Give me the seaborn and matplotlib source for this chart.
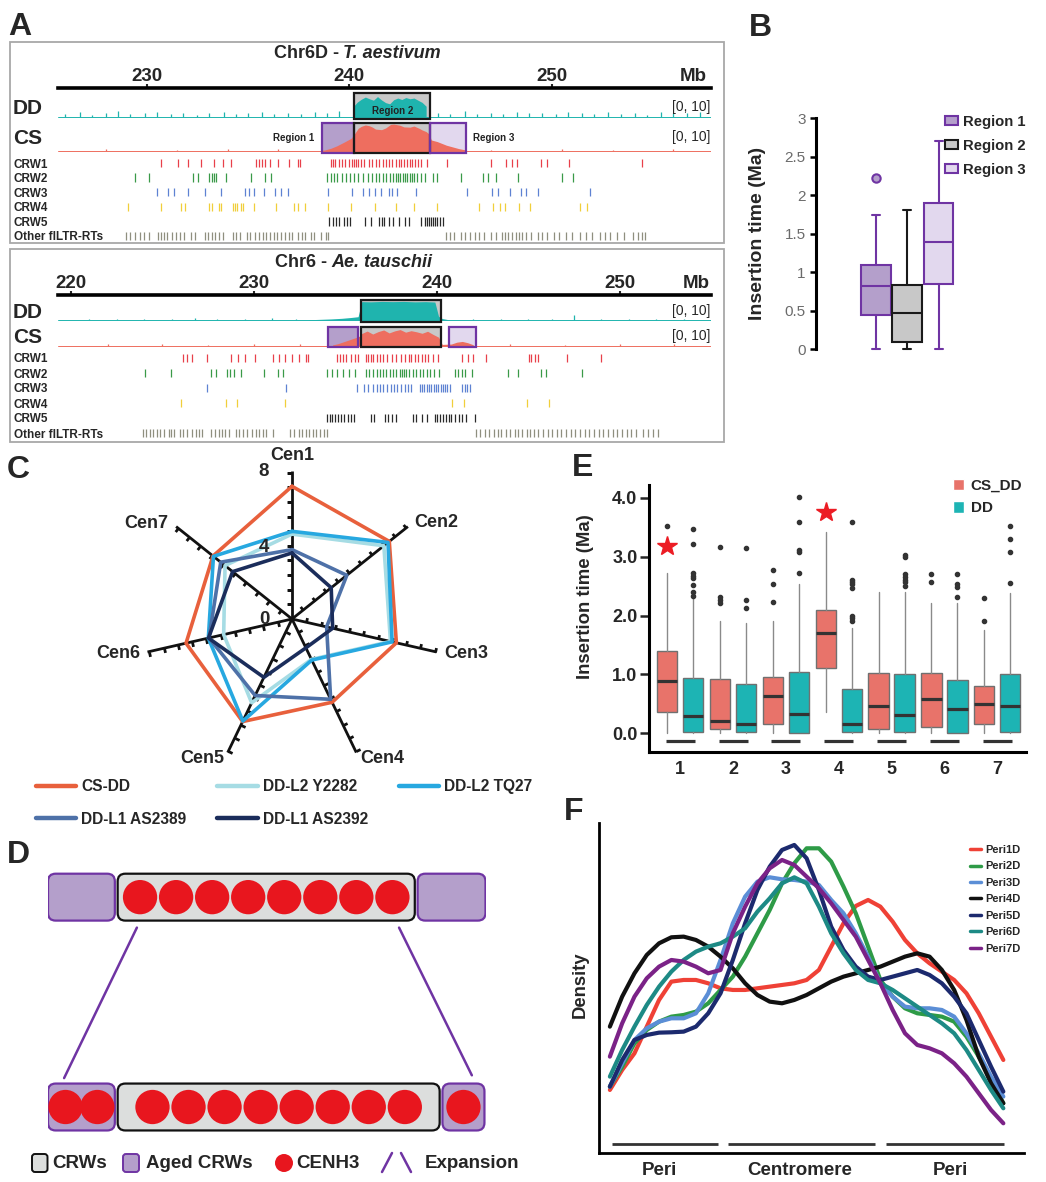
import numpy as np
import pandas as pd
import matplotlib
matplotlib.use("Agg")
import matplotlib.pyplot as plt
import matplotlib.patches as mpatches
from matplotlib.lines import Line2D
from matplotlib.markers import MarkerStyle
from matplotlib.path import Path
from matplotlib.transforms import Affine2D
import seaborn as sns

sns.set_style("white")
plt.rcParams["font.family"] = ["Liberation Sans", "DejaVu Sans"]
plt.rcParams["font.weight"] = "bold"

# ---------------- data: panel A (positions in Mb) ----------------
row_names = ["CRW1", "CRW2", "CRW3", "CRW4", "CRW5", "Other flLTR-RTs"]

top_crw1 = [230.69, 231.56, 232.07, 232.69, 233.33, 233.79, 234.18, 235.40, 235.54, 235.68, 235.86, 236.09, 236.48,
            237.01, 237.47, 237.58, 239.08, 239.19, 239.31, 239.49, 239.65, 239.81, 240.0, 240.13, 240.23, 240.34,
            240.45, 240.57, 240.75, 240.96, 241.14, 241.33, 241.49, 241.65, 241.83, 241.97, 242.11, 242.29, 242.48,
            242.57, 242.71, 242.87, 242.98, 243.10, 243.26, 243.40, 243.56, 243.86, 244.82, 247.0, 247.76, 248.04,
            248.27, 249.49, 249.76, 250.84, 254.43]
top_crw2 = [229.43, 230.11, 232.30, 232.53, 233.1, 233.22, 233.33, 233.45, 233.9, 235.17, 235.86, 236.13, 238.92,
            239.08, 239.26, 239.42, 239.65, 239.83, 240.04, 240.23, 240.45, 240.68, 240.91, 241.14, 241.33, 241.49,
            241.65, 241.83, 242.02, 242.18, 242.29, 242.41, 242.52, 242.64, 242.75, 242.87, 242.98, 243.1, 243.21,
            243.37, 243.56, 243.72, 244.13, 244.36, 245.51, 246.61, 246.84, 247.23, 248.31, 250.52, 251.07]
top_crw3 = [230.51, 231.08, 231.38, 232.07, 232.87, 233.68, 234.87, 235.06, 235.29, 235.81, 236.36, 236.66, 236.96,
            238.96, 240.16, 240.68, 240.96, 241.26, 241.56, 241.95, 242.11, 242.34, 243.28, 245.81, 247.07, 247.35,
            247.92, 248.5, 248.73, 249.3, 251.9]
top_crw4 = [229.08, 230.69, 231.72, 231.88, 233.06, 233.22, 233.56, 233.68, 234.25, 234.37, 234.48, 234.67, 234.76,
            235.29, 236.39, 237.28, 237.47, 237.81, 238.96, 240.11, 241.26, 242.29, 243.21, 244.36, 246.43, 247.12,
            247.46, 247.69, 248.38, 248.95, 251.37, 251.76]
top_crw5 = [239.03, 239.19, 239.35, 239.49, 239.77, 239.88, 240.04, 240.8, 241.1, 241.49, 241.61, 241.72, 241.95,
            242.18, 242.48, 242.75, 242.94, 243.56, 243.72, 243.86, 243.95, 244.04, 244.13, 244.25, 244.36, 244.48,
            244.64]
top_other = [228.97, 229.2, 229.43, 229.66, 229.89, 230.11, 230.57, 230.69, 230.85, 230.99, 231.26, 231.45, 231.63,
             231.84, 232.18, 232.41, 232.87, 233.03, 233.22, 233.38, 233.56, 233.79, 234.25, 234.43, 234.6, 234.94,
             235.12, 235.35, 235.54, 235.74, 235.91, 236.09, 236.27, 236.46, 236.64, 236.82, 237.01, 237.19, 237.47,
             237.65, 237.81, 238.11, 238.27, 238.62, 238.85, 238.96, 244.77, 245.0, 245.17, 245.51, 245.74, 245.97,
             246.2, 246.43, 246.66, 247.0, 247.23, 247.53, 247.69, 247.85, 248.04, 248.22, 248.38, 248.54, 248.73,
             248.96, 249.3, 249.53, 249.76, 250.11, 250.34, 250.68, 251.02, 251.37, 251.71, 251.99, 252.4, 252.63,
             252.86, 253.21, 253.55, 254.01, 254.24, 254.43, 254.59]

bot_crw1 = [226.1, 226.36, 226.61, 227.45, 228.77, 229.15, 229.53, 230.04, 231.06, 231.37, 231.7, 232.08, 232.46,
            232.84, 232.97, 234.54, 234.7, 234.87, 235.05, 235.31, 235.51, 235.71, 236.15, 236.27, 236.4, 236.53,
            236.73, 236.91, 237.09, 237.29, 237.54, 237.75, 238.05, 238.26, 238.46, 238.61, 238.82, 238.97, 239.2,
            239.37, 239.53, 239.78, 240.09, 241.36, 241.69, 241.99, 242.71, 245.04, 245.17, 245.38, 245.55, 247.15,
            248.99]
bot_crw2 = [224.07, 225.47, 227.63, 227.93, 228.52, 228.7, 228.9, 229.28, 230.55, 231.31, 231.57, 233.98, 234.29,
            234.54, 234.87, 235.2, 235.51, 236.15, 236.32, 236.53, 236.73, 236.91, 237.04, 237.24, 237.42, 237.59,
            237.8, 237.98, 238.1, 238.2, 238.31, 238.51, 238.69, 238.87, 239.07, 239.27, 239.45, 239.63, 239.83,
            240.14, 240.98, 241.15, 241.36, 241.56, 241.92, 243.9, 244.46, 245.68, 245.99, 247.92]
bot_crw3 = [227.42, 231.75, 235.64, 236.02, 236.27, 236.53, 236.73, 236.91, 237.09, 237.29, 237.49, 237.67, 237.85,
            238.05, 238.26, 238.43, 238.61, 239.07, 239.2, 239.32, 239.45, 239.58, 239.71, 239.83, 239.96, 240.09,
            240.21, 240.34, 240.47, 240.59, 240.72, 241.41, 241.54, 241.66, 241.82]
bot_crw4 = [226.03, 228.47, 229.08, 231.7, 240.85, 241.48, 244.92, 246.14]
bot_crw5 = [233.98, 234.14, 234.29, 234.44, 234.59, 234.75, 234.95, 235.13, 235.31, 235.46, 236.4, 236.58, 237.16,
            237.34, 237.54, 237.75, 238.69, 238.89, 239.2, 239.45, 239.88, 240.04, 240.19, 240.34, 240.49, 240.65,
            240.8, 240.98, 241.23, 241.41, 241.61, 242.07]
bot_other = [223.94, 224.12, 224.32, 224.5, 224.7, 224.88, 225.09, 225.34, 225.47, 225.64, 225.98, 226.15, 226.36,
             226.61, 226.81, 226.99, 227.17, 227.68, 227.88, 228.09, 228.26, 228.44, 228.64, 229.03, 229.2, 229.41,
             229.61, 229.92, 230.12, 230.3, 230.48, 230.68, 231.06, 232.0, 232.2, 232.46, 232.66, 232.84, 233.02,
             233.22, 233.42, 233.6, 233.86, 233.98, 242.17, 242.37, 242.63, 242.88, 243.14, 243.34, 243.52, 243.77,
             244.03, 244.28, 244.46, 244.66, 244.92, 245.12, 245.3, 245.55, 245.81, 246.06, 246.32, 246.57, 246.82,
             247.08, 247.33, 247.59, 247.84, 248.1, 248.35, 248.6, 248.86, 249.11, 249.37, 249.62, 249.88, 250.13,
             250.38, 250.64, 250.89, 251.27, 251.58, 251.83, 252.09]

# coverage tracks, scale [0, 10]
top_dd_pos = [240.2, 240.4, 240.6, 240.8, 241.0, 241.2, 241.4, 241.6, 241.8, 242.0, 242.2, 242.4, 242.6, 242.8,
              243.0, 243.2, 243.4, 243.6, 243.8]
top_dd_val = [4.3, 6.2, 7.4, 8.3, 7.6, 7.0, 8.5, 7.1, 6.0, 5.5, 7.2, 7.9, 7.3, 8.1, 7.6, 7.9, 7.0, 6.1, 4.5]
top_cs_pos = [238.6, 238.8, 239.1, 239.4, 239.8, 240.1, 240.3, 240.45, 240.6, 240.8, 241.0, 241.15, 241.3, 241.6,
              241.8, 242.05, 242.2, 242.5, 242.7, 243.0, 243.2, 243.45, 243.6, 243.8, 243.95, 244.05, 244.35, 244.8,
              245.4, 245.75]
top_cs_val = [0.1, 0.3, 0.9, 1.8, 3.3, 4.5, 6.5, 8.1, 8.8, 9.3, 9.0, 8.5, 7.8, 7.6, 8.2, 9.5, 9.6, 9.2, 8.6, 8.5,
              8.9, 8.1, 7.5, 6.9, 6.0, 3.9, 3.3, 2.0, 0.8, 0.3]
top_dd_bg_pos = [226.0, 226.7, 227.3, 228.0, 228.6, 229.2, 229.9, 230.5, 231.2, 231.8, 232.5, 233.1, 233.8, 234.4,
                 235.0, 235.7, 236.3, 237.0, 237.6, 238.3, 238.9, 239.5, 244.4, 245.0, 245.7, 246.3, 247.0, 247.6,
                 248.3, 248.9, 249.5, 250.2, 250.8, 251.5, 252.1, 252.8, 253.4, 254.1, 254.7, 255.4, 256.0, 256.7,
                 257.3]
top_dd_bg_val = [1.2, 2.0, 1.0, 1.8, 2.4, 1.1, 1.6, 2.2, 1.3, 1.9, 1.0, 1.7, 2.3, 1.2, 1.5, 2.0, 1.1, 1.8, 1.4,
                 2.1, 1.6, 2.5, 1.8, 1.2, 2.6, 1.4, 1.9, 1.1, 2.2, 1.5, 1.8, 1.2, 2.0, 1.6, 1.3, 2.1, 1.4, 1.9, 1.0,
                 2.3, 1.5, 1.7, 2.0]
top_cs_bg_pos = [228.0, 231.5, 234.0, 236.5, 247.0, 250.5, 253.0, 256.0]
top_cs_bg_val = [0.5, 0.4, 0.6, 0.5, 0.4, 0.6, 0.4, 0.5]

bot_dd_pos = [233.0, 233.6, 234.2, 234.8, 235.3, 235.7, 235.9, 236.4, 237.0, 237.6, 238.2, 238.8, 239.4, 239.9,
              240.1, 240.3, 240.6]
bot_dd_val = [0.3, 0.5, 0.7, 1.0, 1.4, 1.8, 9.2, 9.1, 9.3, 9.2, 9.3, 9.1, 9.2, 9.0, 2.0, 0.9, 0.4]
bot_cs_pos = [234.3, 234.6, 234.9, 235.2, 235.5, 235.75, 235.9, 236.2, 236.5, 236.8, 237.1, 237.4, 237.7, 238.0,
              238.3, 238.6, 238.9, 239.2, 239.5, 239.8, 240.1, 240.3, 240.8, 241.1, 241.4, 241.7, 242.0]
bot_cs_val = [0.3, 1.0, 2.0, 3.0, 4.0, 4.9, 6.5, 7.8, 6.2, 7.5, 8.4, 6.8, 7.9, 8.6, 7.2, 8.0, 7.4, 6.6, 7.7, 6.0,
              4.5, 0.6, 0.8, 1.8, 2.2, 1.5, 0.4]
bot_dd_bg_pos = [221.0, 222.5, 224.0, 225.5, 226.8, 228.0, 229.5, 231.0, 232.3, 242.0, 243.5, 245.0, 246.3, 247.5,
                 249.0, 250.5, 252.0, 253.5]
bot_dd_bg_val = [0.6, 0.8, 0.5, 0.9, 1.4, 0.7, 0.8, 1.0, 0.9, 0.8, 0.6, 0.7, 0.9, 2.6, 0.7, 0.8, 0.6, 0.7]
bot_cs_bg_pos = [222.0, 225.0, 227.5, 230.0, 232.5, 244.0, 247.0, 250.0, 253.0]
bot_cs_bg_val = [0.6, 0.8, 0.5, 0.9, 0.7, 0.6, 0.5, 0.7, 0.6]

# region limits (Mb)
top_regions = [(238.65, 240.26), (240.26, 244.0), (244.0, 245.77)]
bot_regions = [(234.06, 235.71), (235.84, 240.26), (240.67, 242.17)]

# ---------------- data: panel B ----------------
b_names = ["Region 1", "Region 2", "Region 3"]
b_whislo = [0.0, 0.0, 0.0]
b_q1 = [0.45, 0.09, 0.85]
b_med = [0.82, 0.47, 1.39]
b_q3 = [1.10, 0.84, 1.90]
b_whishi = [1.75, 1.81, 2.70]
b_fliers = [[2.22], [], []]

# ---------------- data: panel C ----------------
cen_names = ["Cen1", "Cen2", "Cen3", "Cen4", "Cen5", "Cen6", "Cen7"]
c_names = ["CS-DD", "DD-L2 Y2282", "DD-L2 TQ27", "DD-L1 AS2389", "DD-L1 AS2392"]
c_csdd = [7.25, 6.80, 5.85, 5.05, 6.22, 5.94, 5.52]
c_y2282 = [4.64, 6.42, 5.52, 2.45, 5.08, 3.83, 4.68]
c_tq27 = [4.79, 6.71, 5.61, 2.49, 6.19, 4.69, 5.49]
c_as2389 = [3.79, 3.83, 1.94, 4.87, 4.64, 4.65, 4.98]
c_as2392 = [3.61, 2.74, 2.28, 1.75, 3.54, 4.68, 4.15]

# ---------------- data: panel D ----------------
d_kinds = ["aged", "crw", "aged"]
d_top_widths = [1.91, 8.49, 1.94]
d_bot_widths = [1.91, 9.20, 1.20]
d_top_cenh3 = [0, 8, 0]
d_bot_cenh3 = [2, 8, 1]

# ---------------- data: panel E ----------------
e_groups = ["1", "2", "3", "4", "5", "6", "7"]
cs_lo = [0.0, 0.0, 0.0, 0.36, 0.0, 0.0, 0.0]
cs_q1 = [0.37, 0.08, 0.16, 1.11, 0.08, 0.11, 0.16]
cs_med = [0.88, 0.21, 0.63, 1.70, 0.46, 0.59, 0.50]
cs_q3 = [1.40, 0.92, 0.96, 2.10, 1.02, 1.02, 0.80]
cs_hi = [2.72, 1.91, 1.91, 3.42, 2.40, 2.22, 1.75]
cs_out = [[3.52], [2.22, 2.26, 2.32, 3.17], [2.23, 2.53, 2.78], [], [], [2.57, 2.70], [1.90, 2.30]]
dd_lo = [0.0, 0.0, 0.0, 0.0, 0.0, 0.0, 0.0]
dd_q1 = [0.03, 0.03, 0.0, 0.03, 0.03, 0.0, 0.03]
dd_med = [0.29, 0.16, 0.33, 0.16, 0.31, 0.42, 0.46]
dd_q3 = [0.94, 0.84, 1.04, 0.75, 1.01, 0.91, 1.00]
dd_hi = [2.29, 1.87, 2.54, 1.78, 2.40, 2.22, 2.39]
dd_out = [[2.33, 2.40, 2.51, 2.63, 2.67, 2.72, 3.21, 3.47], [2.13, 2.26, 3.15], [2.72, 3.08, 3.11, 3.59, 4.01],
          [1.91, 1.95, 2.00, 2.46, 2.53, 2.57, 2.61, 3.59], [2.50, 2.57, 2.61, 2.66, 2.70, 2.99, 3.03],
          [2.31, 2.48, 2.53, 2.70], [2.55, 3.07, 3.30, 3.52]]
star_groups = [0, 3]
star_y = [3.18, 3.76]

# ---------------- data: panel F (density read every half step) ----------------
f_pos = [0, 0.5, 1, 1.5, 2, 2.5, 3, 3.5, 4, 4.5, 5, 5.5, 6, 6.5, 7, 7.5, 8, 8.5, 9, 9.5, 10, 10.5, 11, 11.5, 12,
         12.5, 13, 13.5, 14, 14.5, 15, 15.5, 16]
f_peri1 = [.19, .25, .30, .38, .46, .515, .52, .52, .51, .495, .49, .49, .495, .50, .505, .51, .52, .55, .62, .69,
           .742, .76, .74, .695, .64, .60, .57, .545, .52, .48, .42, .35, .28]
f_peri2 = [.20, .26, .33, .37, .395, .41, .415, .425, .45, .49, .53, .59, .66, .73, .81, .87, .915, .915, .875,
           .80, .72, .62, .52, .47, .435, .42, .415, .41, .395, .35, .29, .22, .15]
f_peri3 = [.20, .27, .34, .375, .395, .405, .405, .42, .48, .58, .69, .77, .815, .828, .822, .82, .815, .805, .76,
           .72, .66, .59, .51, .47, .44, .435, .435, .43, .41, .36, .30, .23, .17]
f_peri4 = [.38, .47, .54, .595, .63, .648, .65, .64, .62, .59, .555, .51, .475, .455, .45, .46, .475, .495, .515,
           .53, .54, .55, .56, .575, .59, .60, .59, .55, .49, .40, .29, .21, .15]
f_peri5 = [.20, .28, .34, .355, .362, .363, .365, .38, .42, .48, .58, .69, .79, .86, .91, .925, .885, .79, .68,
           .61, .56, .53, .52, .53, .54, .55, .535, .51, .47, .42, .34, .26, .185]
f_peri6 = [.23, .31, .38, .445, .50, .545, .58, .605, .62, .63, .65, .675, .725, .765, .81, .828, .81, .74, .66,
           .60, .55, .52, .51, .49, .465, .44, .415, .39, .36, .31, .25, .19, .135]
f_peri7 = [.29, .39, .47, .525, .56, .58, .575, .56, .54, .55, .66, .74, .81, .855, .88, .865, .83, .795, .75, .70,
           .65, .58, .51, .43, .36, .325, .315, .30, .27, .23, .18, .13, .09]
f_names = ["Peri1D", "Peri2D", "Peri3D", "Peri4D", "Peri5D", "Peri6D", "Peri7D"]
f_regions = ["Peri", "Centromere", "Peri"]

# ---------------- figure helpers ----------------
W, H = 1046, 1182
fig = plt.figure(figsize=(W / 100, H / 100), dpi=100)


def px_axes(x0, y0, x1, y1, **kw):
    return fig.add_axes([x0 / W, 1 - y1 / H, (x1 - x0) / W, (y1 - y0) / H], **kw)


def ftext(x, y, s, **kw):
    return fig.text(x / W, 1 - y / H, s, **kw)


def fpt(x, y):
    return (x / W, 1 - y / H)


TEAL = "#1FB4AE"
SALMON = "#EE6E5F"
PURPLE = "#6F34A3"
REG_FACE = ["#B49FCB", "#C8C8C8", "#E2D8EE"]
REG_EDGE = [PURPLE, "#1a1a1a", PURPLE]
ROW_COLORS = ["#E8404A", "#3A9A48", "#5E82D2", "#F0CF3A", "#2a2a2a", "#8f8f7f"]


def genome_block(lay, cov, bg, regions, rows, region_labels=False):
    bx0, by0, bx1, by1 = lay["box"]
    fig.add_artist(mpatches.Rectangle(fpt(bx0, by1), (bx1 - bx0) / W, (by1 - by0) / H,
                                      transform=fig.transFigure, fill=False, ec="#a8a8a8", lw=1.3))
    ftext(lay["split"] - 2, lay["title_y"], lay["left"], ha="right", va="center", fontsize=13)
    ftext(lay["split"] + 2, lay["title_y"], lay["right"], ha="left", va="center", fontsize=13, style="italic")

    ruler = px_axes(58, lay["ruler_y"] - 1, 711, lay["ruler_y"])
    ruler.set_xlim(lay["xlim"])
    ruler.set_ylim(0, 1)
    ruler.set_yticks([])
    for s in ["left", "right", "top"]:
        ruler.spines[s].set_visible(False)
    ruler.spines["bottom"].set_linewidth(2.6)
    ruler.spines["bottom"].set_color("black")
    ruler.set_xticks(lay["ticks"])
    ruler.tick_params(axis="x", bottom=True, top=False, labelbottom=False, labeltop=True,
                      length=3, width=1.5, pad=1.5, labelsize=13.5, direction="in")
    ruler.annotate("Mb", (lay["mb"], 1), xycoords=("data", "axes fraction"), xytext=(0, 1.5),
                   textcoords="offset points", ha="center", va="bottom", fontsize=13.5)

    for k, name, color in [(0, "DD", TEAL), (1, "CS", SALMON)]:
        ya, yb = lay["tracks"][k]
        ax = px_axes(58, ya, 711, yb)
        ax.set_xlim(lay["xlim"])
        ax.set_ylim(-0.8, 10)
        ax.axis("off")
        use = [1] if name == "DD" else [0, 1, 2]
        for i in use:
            r0, r1 = regions[i]
            ax.add_patch(mpatches.Rectangle((r0, -0.8), r1 - r0, 10.8, fc=REG_FACE[i], ec="none", zorder=1))
            ax.add_patch(mpatches.Rectangle((r0, -0.8), r1 - r0, 10.8, fill=False, ec=REG_EDGE[i], lw=1.6,
                                            zorder=4, clip_on=False))
        pos, val = cov[k]
        ax.fill_between(pos, val, color=color, lw=0, zorder=2)
        bpos, bval = bg[k]
        ax.vlines(bpos, 0, bval, color=color, lw=0.9, zorder=2)
        ax.axhline(0, color=color, lw=0.7, zorder=2)
        ftext(28, lay["labels"][k], name, ha="center", va="center", fontsize=15)
        ftext(710, lay["labels"][k] - 1, "[0, 10]", ha="right", va="center", fontsize=10, fontweight="normal")
        if region_labels and name == "DD":
            ax.text((regions[1][0] + regions[1][1]) / 2, 2.6, "Region 2", ha="center", va="center",
                    fontsize=7, zorder=5, color="#222")
        if region_labels and name == "CS":
            ax.text(regions[0][0] - 0.35, 4.5, "Region 1", ha="right", va="center", fontsize=7, color="#222")
            ax.text(regions[2][1] + 0.35, 4.5, "Region 3", ha="left", va="center", fontsize=7, color="#222")

    rax = px_axes(58, lay["rows"][0], 711, lay["rows"][1])
    rax.eventplot(rows, lineoffsets=list(range(6)), linelengths=0.58, linewidths=0.9, colors=ROW_COLORS)
    rax.set_xlim(lay["xlim"])
    rax.set_ylim(5.5, -0.5)
    rax.set_yticks(range(6))
    rax.set_yticklabels(row_names, fontsize=8.5)
    for lab in rax.get_yticklabels():
        lab.set_horizontalalignment("left")
    rax.tick_params(axis="y", left=False, length=0, pad=(58 - 14) * 0.72)
    rax.set_xticks([])
    for s in rax.spines.values():
        s.set_visible(False)


# ---------------- panel A ----------------
top_lay = dict(box=(10, 42, 724, 243), split=341, title_y=53.5, left="Chr6D -", right="T. aestivum",
               ruler_y=88, xlim=(225.63, 257.86), ticks=[230, 240, 250], mb=257.0,
               tracks=[(93, 119), (123, 153)], labels=[108, 138], rows=(155.7, 243.3))
bot_lay = dict(box=(10, 249, 724, 442), split=329, title_y=262.5, left="Chr6 -", right="Ae. tauschii",
               ruler_y=295, xlim=(219.29, 255.0), ticks=[220, 230, 240, 250], mb=254.2,
               tracks=[(300, 322), (327, 347)], labels=[312, 337], rows=(350.5, 440.5))

genome_block(top_lay, [(top_dd_pos, top_dd_val), (top_cs_pos, top_cs_val)],
             [(top_dd_bg_pos, top_dd_bg_val), (top_cs_bg_pos, top_cs_bg_val)], top_regions,
             [top_crw1, top_crw2, top_crw3, top_crw4, top_crw5, top_other], region_labels=True)
genome_block(bot_lay, [(bot_dd_pos, bot_dd_val), (bot_cs_pos, bot_cs_val)],
             [(bot_dd_bg_pos, bot_dd_bg_val), (bot_cs_bg_pos, bot_cs_bg_val)], bot_regions,
             [bot_crw1, bot_crw2, bot_crw3, bot_crw4, bot_crw5, bot_other])

# ---------------- panel B ----------------
axb = px_axes(816, 118.3, 1040, 349.3)
b_stats = [dict(label=n, whislo=lo, q1=a, med=m, q3=b, whishi=hi, fliers=f)
           for n, lo, a, m, b, hi, f in zip(b_names, b_whislo, b_q1, b_med, b_q3, b_whishi, b_fliers)]
bp = axb.bxp(b_stats, positions=range(3), widths=0.94, patch_artist=True, capwidths=0.25, showfliers=True)
for i in range(3):
    fc, ec = REG_FACE[i], REG_EDGE[i]
    bp["boxes"][i].set(facecolor=fc, edgecolor=ec, linewidth=1.5)
    bp["medians"][i].set(color=ec, linewidth=1.5)
    for art in bp["whiskers"][2 * i:2 * i + 2] + bp["caps"][2 * i:2 * i + 2]:
        art.set(color=ec, linewidth=1.5)
    bp["fliers"][i].set(marker="o", markerfacecolor=fc, markeredgecolor=ec, markersize=6, markeredgewidth=1.5)
for key in bp:
    for art in bp[key]:
        art.set_clip_on(False)
axb.set_xlim(-1.905, 5.23)
axb.set_ylim(0, 3)
axb.set_xticks([])
for s in ["top", "right", "bottom"]:
    axb.spines[s].set_visible(False)
axb.spines["left"].set(linewidth=2.2, color="black")
axb.set_yticks([0, 0.5, 1, 1.5, 2, 2.5, 3])
axb.set_yticklabels(["0", "0.5", "1", "1.5", "2", "2.5", "3"], fontsize=11, fontweight="normal", color="#6b6b6b")
axb.tick_params(axis="y", left=True, length=4.5, width=1.8, color="black", pad=3)
ftext(757, 233, "Insertion time (Ma)", rotation=90, ha="center", va="center", fontsize=14)
axb.legend(handles=[mpatches.Patch(facecolor=REG_FACE[i], edgecolor=REG_EDGE[i], linewidth=1.5, label=b_names[i])
                    for i in range(3)],
           loc="upper left", bbox_to_anchor=fpt(945, 115), bbox_transform=fig.transFigure, frameon=False,
           fontsize=10.7, handlelength=0.85, handleheight=0.55, handletextpad=0.35, labelspacing=0.68,
           borderpad=0, borderaxespad=0)

# ---------------- panel C ----------------
C_UNIT = 18.3
axc = px_axes(292 - 170, 619 - 170, 292 + 170, 619 + 170, projection="polar")
axc.set_theta_offset(np.pi / 2)
axc.set_theta_direction(-1)
theta = np.arange(len(cen_names)) * 2 * np.pi / len(cen_names)
tick_r = np.arange(0.8, 8.01, 0.8)
half_tick = Path([(0, 0), (0, 1)])
for th in theta:
    axc.plot([th, th], [0, 8.1], color="#111111", lw=2.0, solid_capstyle="butt", zorder=1)
    mk = MarkerStyle(half_tick, transform=Affine2D().rotate_deg(90 - np.degrees(th)))
    axc.plot(np.full(tick_r.size, th), tick_r, ls="none", marker=mk, ms=6.5, mew=2.0, color="#111111", zorder=1)
c_colors = ["#E8603C", "#A6DCE4", "#27A8E0", "#4E71A8", "#1B2D5B"]
th_closed = np.append(theta, 2 * np.pi)
for vals, col in zip([c_csdd, c_y2282, c_tq27, c_as2389, c_as2392], c_colors):
    sns.lineplot(x=th_closed, y=np.append(vals, vals[0]), ax=axc, color=col, lw=2.6, sort=False,
                 estimator=None, zorder=3)
axc.set_ylim(0, 170 / C_UNIT)
axc.set_axis_off()
lab_r = [8.96, 9.46, 9.69, 9.05, 9.05, 9.69, 9.55]
lab_a = [0, 56.3, 101.1, 147.1, 212.9, 258.9, 303.3]
for name, r, a in zip(cen_names, lab_r, lab_a):
    axc.text(np.radians(a), r, name, ha="center", va="center", fontsize=13, clip_on=False)
for s, y in [("8", 472), ("4", 547), ("0", 620)]:
    ftext(264, y, s, ha="center", va="center", fontsize=13.5)
order = [0, 3, 1, 4, 2]
fig.legend(handles=[Line2D([], [], color=c_colors[i], lw=3.2) for i in order],
           labels=[c_names[i] for i in order], loc="upper left", bbox_to_anchor=fpt(36, 779), ncol=3,
           frameon=False, fontsize=11.2, handlelength=2.6, handletextpad=0.3, columnspacing=2.0,
           labelspacing=1.15, borderpad=0, borderaxespad=0)

# ---------------- panel D ----------------
D_STYLE = {"aged": ("#B49FCB", PURPLE), "crw": ("#DCDEDD", "#111111")}
D_RED = "#E8161E"
axd = px_axes(48, 870, 485.5, 1132)
axd.set_xlim(0, 437.5 / 35)
axd.set_ylim(0, 262 / 35)
axd.axis("off")


def d_row(yc, widths, counts):
    x = 0.0
    edges = []
    for kind, w, n in zip(d_kinds, widths, counts):
        fc, ec = D_STYLE[kind]
        axd.add_patch(mpatches.FancyBboxPatch((x, yc - 0.67), w, 1.34, boxstyle="round,pad=0,rounding_size=0.22",
                                              fc=fc, ec=ec, lw=1.6))
        if n:
            pitch = min(1.03, (w - 1.0) / max(n - 1, 1))
            start = x + w / 2 - pitch * (n - 1) / 2
            for k in range(n):
                axd.add_patch(mpatches.Circle((start + k * pitch, yc), 0.49, fc=D_RED, ec="none"))
        edges.append((x, x + w))
        x += w + 0.08
    return edges


top_edges = d_row(6.71, d_top_widths, d_top_cenh3)
bot_edges = d_row(0.714, d_bot_widths, d_bot_cenh3)
axd.plot([top_edges[1][0] + 0.55, bot_edges[0][0] + 0.46], [5.84, 1.54], color=PURPLE, lw=1.8)
axd.plot([top_edges[1][1] - 0.45, bot_edges[2][1] - 0.36], [5.84, 1.62], color=PURPLE, lw=1.8)

legd = px_axes(20, 1145, 540, 1181)
legd.set_xlim(20, 540)
legd.set_ylim(1181, 1145)
legd.axis("off")
legd.add_patch(mpatches.FancyBboxPatch((32, 1154), 15.5, 18, boxstyle="round,pad=0,rounding_size=3",
                                       fc="#DCDEDD", ec="#111111", lw=1.4))
legd.add_patch(mpatches.FancyBboxPatch((123, 1154), 16, 18, boxstyle="round,pad=0,rounding_size=3",
                                       fc="#B49FCB", ec=PURPLE, lw=1.4))
legd.add_patch(mpatches.Circle((284, 1163), 9, fc=D_RED, ec="none"))
legd.plot([382, 392], [1172, 1153], color=PURPLE, lw=1.8)
legd.plot([401, 411], [1153, 1172], color=PURPLE, lw=1.8)
for x, s in [(52, "CRWs"), (146, "Aged CRWs"), (296, "CENH3"), (425, "Expansion")]:
    legd.text(x, 1164, s, ha="left", va="center", fontsize=13.5)

# ---------------- panel E ----------------
E_CS = "#E8736A"
E_DD = "#1DB4B4"
axe = px_axes(649.3, 485, 1026, 751.7)
gx = np.arange(len(e_groups))
for lo, q1, med, q3, hi, outs, off, fc in [
        (cs_lo, cs_q1, cs_med, cs_q3, cs_hi, cs_out, -0.246, E_CS),
        (dd_lo, dd_q1, dd_med, dd_q3, dd_hi, dd_out, 0.246, E_DD)]:
    stats = [dict(whislo=a, q1=b, med=c, q3=d, whishi=e, fliers=f)
             for a, b, c, d, e, f in zip(lo, q1, med, q3, hi, outs)]
    axe.bxp(stats, positions=gx + off, widths=0.385, patch_artist=True, showcaps=False,
            boxprops=dict(facecolor=fc, edgecolor="#707070", linewidth=1.0),
            medianprops=dict(color="#333333", linewidth=2.3),
            whiskerprops=dict(color="#8a8a8a", linewidth=1.0),
            flierprops=dict(marker="o", markersize=3, markerfacecolor="#333333", markeredgecolor="#333333"))
axe.hlines(np.full(gx.size, -0.13), gx - 0.275, gx + 0.275, color="#333333", lw=2.3)
axe.plot(np.array(star_groups) - 0.246, star_y, ls="none", marker="*", ms=15, color="#EC1C24")
axe.set_xlim(-0.587, 6.544)
axe.set_ylim(-0.312, 4.216)
for s in ["top", "right"]:
    axe.spines[s].set_visible(False)
for s in ["left", "bottom"]:
    axe.spines[s].set(linewidth=2.2, color="black")
axe.set_yticks([0, 1, 2, 3, 4])
axe.set_yticklabels(["0.0", "1.0", "2.0", "3.0", "4.0"], fontsize=13)
axe.tick_params(axis="y", left=True, length=6.5, width=1.8, pad=2)
axe.set_xticks(gx)
axe.set_xticklabels(e_groups, fontsize=13)
axe.tick_params(axis="x", bottom=False, length=0, pad=7)
ftext(585, 597, "Insertion time (Ma)", rotation=90, ha="center", va="center", fontsize=13.4)
axe.legend(handles=[mpatches.Patch(facecolor=E_CS, label="CS_DD"), mpatches.Patch(facecolor=E_DD, label="DD")],
           loc="upper left", bbox_to_anchor=fpt(952.5, 479), bbox_transform=fig.transFigure, frameon=False,
           fontsize=11, handlelength=0.75, handleheight=0.75, handletextpad=0.45, labelspacing=0.55,
           borderpad=0, borderaxespad=0)

# ---------------- panel F ----------------
F_COLORS = dict(zip(f_names, ["#EF4136", "#2E9B47", "#5B8ED6", "#111111", "#1C2A6E", "#1D8A85", "#7B2287"]))
f_df = pd.DataFrame([(n, x, y) for n, ys in zip(f_names, [f_peri1, f_peri2, f_peri3, f_peri4, f_peri5, f_peri6,
                                                          f_peri7]) for x, y in zip(f_pos, ys)],
                    columns=["series", "pos", "density"])
axf = px_axes(599.3, 823.3, 1024, 1153.3)
sns.lineplot(data=f_df, x="pos", y="density", hue="series", palette=F_COLORS, lw=3, legend=False, ax=axf,
             estimator=None, sort=False)
for ln in axf.lines:
    ln.set_solid_joinstyle("round")
    ln.set_solid_capstyle("round")
axf.set_xlim(-0.43, 16.84)
axf.set_ylim(0, 0.99)
axf.set_xlabel("")
axf.set_ylabel("")
axf.set_yticks([])
axf.set_xticks([2.03, 7.73, 13.86])
axf.set_xticklabels(f_regions, fontsize=13.5)
axf.tick_params(axis="x", bottom=False, length=0, pad=6)
for s in ["top", "right"]:
    axf.spines[s].set_visible(False)
for s in ["left", "bottom"]:
    axf.spines[s].set(linewidth=2, color="black")
axf.hlines([0.028] * 3, [0.07, 4.79, 11.23], [4.41, 10.78, 16.04], color="#333333", lw=2)
ftext(580, 985, "Density", rotation=90, ha="center", va="center", fontsize=13.3)
axf.legend(handles=[Line2D([], [], color=F_COLORS[n], lw=2.5, label=n) for n in f_names],
           loc="upper left", bbox_to_anchor=fpt(970, 845), bbox_transform=fig.transFigure, frameon=False,
           fontsize=8, handlelength=1.0, handletextpad=0.35, labelspacing=0.58, borderpad=0, borderaxespad=0)

# ---------------- panel letters ----------------
for s, x, y in [("A", 20, 27), ("B", 760, 28), ("C", 18.6, 470), ("D", 18.6, 855), ("E", 582.5, 468.5),
                ("F", 574, 812.5)]:
    ftext(x, y, s, ha="center", va="center", fontsize=23)

fig.savefig("out.png", dpi=100)
